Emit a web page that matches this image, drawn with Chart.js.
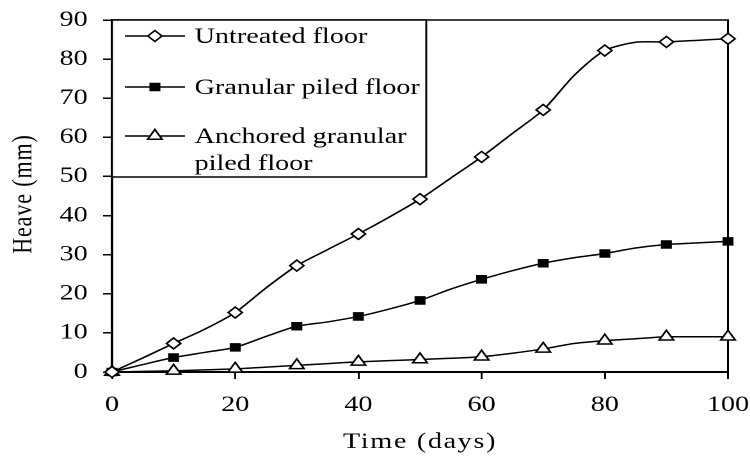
<!DOCTYPE html>
<html>
<head>
<meta charset="utf-8">
<script src="https://cdn.jsdelivr.net/npm/chart.js@4.4.0/dist/chart.umd.min.js"></script>
<style>
    html, body { margin: 0; padding: 0; background: #fff; overflow: hidden; }
    #wrap { position: absolute; left: 0; top: 0; width: 586px; height: 457px; transform: scaleX(1.28); transform-origin: 0 0; }
</style>
</head>
<body>
<div id="wrap"><canvas id="heaveChart"></canvas></div>
<script>
// values (line passes through 5-day points, markers every 10 days)
let days = [0, 5, 10, 15, 20, 25, 30, 35, 40, 45, 50, 55, 60, 65, 70, 75, 80, 85, 90, 95, 100];
let untreated = [0, 3.6, 7.3, 10.9, 15.2, 21.5, 27.2, 31.3, 35.3, 39.6, 44.2, 49.6, 55, 61, 67, 75.8, 82.2, 84.3, 84.4, 84.8, 85.2];
let granular = [0, 1.9, 3.7, 5, 6.3, 9.1, 11.7, 12.8, 14.2, 16.1, 18.3, 21.2, 23.7, 25.9, 27.8, 29.2, 30.3, 31.7, 32.6, 33, 33.4];
let anchored = [0, 0.15, 0.3, 0.55, 0.8, 1.25, 1.7, 2.15, 2.6, 2.9, 3.2, 3.5, 3.9, 4.8, 5.9, 7.3, 8, 8.5, 9, 9, 9];
let seriesNames = [['Untreated floor'], ['Granular piled floor'], ['Anchored granular', 'piled floor']];
let xTicks = [0, 20, 40, 60, 80, 100];
let yTicks = [0, 10, 20, 30, 40, 50, 60, 70, 80, 90];

let serif = "'Liberation Serif', 'Times New Roman', serif";

function toPoints(values) {
    return days.map((d, i) => ({ x: d, y: values[i] }));
}

function markerRadius(r) {
    return ctx => (days[ctx.dataIndex] % 10 === 0 ? r : 0);
}

function noScalePadding(scale) {
    scale.paddingTop = 0;
    scale.paddingBottom = 0;
    scale.paddingLeft = 0;
    scale.paddingRight = 0;
}

let frameBox = {
    id: 'frameBox',
    beforeDatasetsDraw(chart) {
        let { ctx, chartArea } = chart;
        ctx.save();
        ctx.strokeStyle = '#000';
        ctx.lineWidth = 1.5;
        ctx.beginPath();
        ctx.moveTo(chartArea.left, chartArea.top);
        ctx.lineTo(chartArea.right, chartArea.top);
        ctx.lineTo(chartArea.right, chartArea.bottom);
        ctx.stroke();
        ctx.restore();
    }
};

function drawMarker(ctx, ds, x, y) {
    let r = ds.legendRadius;
    ctx.save();
    ctx.fillStyle = ds.pointBackgroundColor;
    ctx.strokeStyle = ds.pointBorderColor;
    ctx.lineWidth = ds.pointBorderWidth;
    if (Chart.helpers && Chart.helpers.drawPoint) {
        Chart.helpers.drawPoint(ctx, {
            pointStyle: ds.pointStyle, radius: r, rotation: 0, borderWidth: ds.pointBorderWidth
        }, x, y);
    }
    ctx.restore();
}

let boxLegend = {
    id: 'boxLegend',
    afterDraw(chart) {
        let { ctx, chartArea } = chart;
        let left = chartArea.left, top = chartArea.top;
        let right = 333, bottom = 177;
        ctx.save();
        ctx.fillStyle = '#fff';
        ctx.fillRect(left, top, right - left, bottom - top);
        ctx.strokeStyle = '#000';
        ctx.lineWidth = 1.5;
        ctx.strokeRect(left, top, right - left, bottom - top);

        let rowY = [36, 87, 136];
        chart.data.datasets.forEach((ds, i) => {
            let y = rowY[i];
            ctx.strokeStyle = '#000';
            ctx.lineWidth = 1.5;
            ctx.beginPath();
            ctx.moveTo(97.5, y);
            ctx.lineTo(144.5, y);
            ctx.stroke();
            drawMarker(ctx, ds, 121, y);

            ctx.fillStyle = '#000';
            ctx.font = '22px ' + serif;
            ctx.textAlign = 'left';
            ctx.textBaseline = 'middle';
            seriesNames[i].forEach((line, j) => {
                ctx.fillText(line, 152, y + 1 + j * 27);
            });
        });
        ctx.restore();
    }
};

let axisTitles = {
    id: 'axisTitles',
    afterDraw(chart) {
        let { ctx, chartArea } = chart;
        ctx.save();
        ctx.fillStyle = '#000';
        ctx.font = '22px ' + serif;
        ctx.textAlign = 'center';
        ctx.textBaseline = 'middle';
        ctx.letterSpacing = '1.3px';
        ctx.fillText('Time (days)', (chartArea.left + chartArea.right) / 2, 442);
        ctx.letterSpacing = '0.9px';
        ctx.translate(18.5, 194);
        ctx.rotate(-Math.PI / 2);
        ctx.fillText('Heave (mm)', 0, 0);
        ctx.restore();
    }
};

let common = {
    borderColor: '#000',
    borderWidth: 1.5,
    tension: 0.25,
    pointBorderColor: '#000',
    pointBorderWidth: 1.5,
    pointHoverRadius: 0,
    clip: false,
    fill: false
};

new Chart(document.getElementById('heaveChart'), {
    type: 'line',
    data: {
        datasets: [
            Object.assign({}, common, {
                label: seriesNames[0].join(' '),
                data: toPoints(untreated),
                pointStyle: 'rectRot',
                pointBackgroundColor: '#fff',
                pointRadius: markerRadius(5.5),
                legendRadius: 5.5
            }),
            Object.assign({}, common, {
                label: seriesNames[1].join(' '),
                data: toPoints(granular),
                pointStyle: 'rect',
                pointBackgroundColor: '#000',
                pointRadius: markerRadius(5),
                legendRadius: 5
            }),
            Object.assign({}, common, {
                label: seriesNames[2].join(' '),
                data: toPoints(anchored),
                pointStyle: 'triangle',
                pointBackgroundColor: '#fff',
                pointRadius: markerRadius(6.5),
                legendRadius: 6.5
            })
        ]
    },
    options: {
        responsive: true,
        maintainAspectRatio: false,
        devicePixelRatio: 2,
        animation: false,
        events: [],
        layout: { padding: { top: 20, right: 17.25, left: 0, bottom: 0 } },
        plugins: {
            legend: { display: false },
            tooltip: { enabled: false }
        },
        scales: {
            x: {
                type: 'linear',
                min: 0,
                max: 100,
                afterBuildTicks: scale => { scale.ticks = xTicks.map(v => ({ value: v })); },
                afterFit: scale => { scale.height = 85; noScalePadding(scale); },
                grid: { drawOnChartArea: false, drawTicks: true, tickLength: 7, color: '#000', lineWidth: 1.5 },
                border: { display: true, color: '#000', width: 2 },
                ticks: { color: '#000', font: { family: serif, size: 22 }, padding: 13, maxRotation: 0 }
            },
            y: {
                min: 0,
                max: 90,
                afterBuildTicks: scale => { scale.ticks = yTicks.map(v => ({ value: v })); },
                afterFit: scale => { scale.width = 87.5; noScalePadding(scale); },
                grid: { drawOnChartArea: false, drawTicks: true, tickLength: 7, color: '#000', lineWidth: 1.5 },
                border: { display: true, color: '#000', width: 2 },
                ticks: { color: '#000', font: { family: serif, size: 22 }, padding: 12 }
            }
        }
    },
    plugins: [frameBox, boxLegend, axisTitles]
});
</script>
</body>
</html>
